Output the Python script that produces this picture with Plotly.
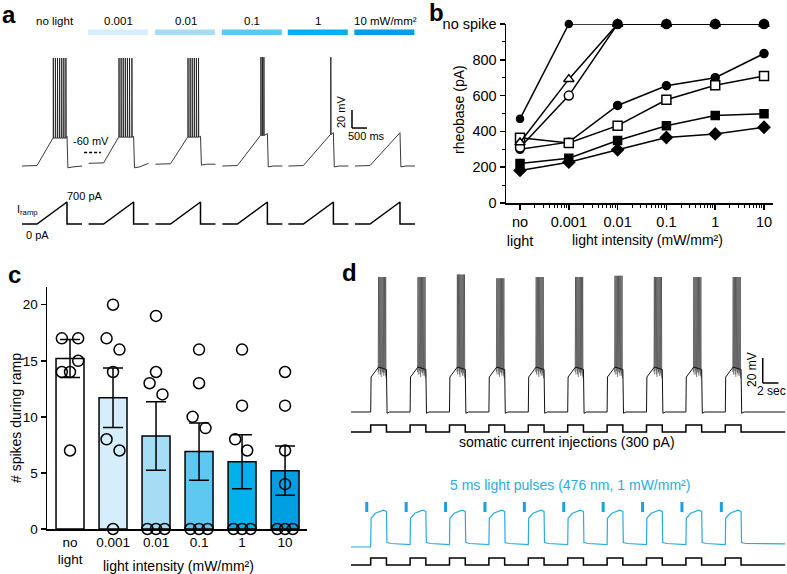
import plotly.graph_objects as go

W, H = 787, 574
FONT = "Liberation Sans, Arial, sans-serif"
BLUE_TXT = "#29abe2"


def dx(a, b):
    return [a / W, b / W]


def dy(top, bottom):
    return [1 - bottom / H, 1 - top / H]


def py(y):
    return 1 - y / H


# ---------------- panel a : ramp responses ----------------
a_labels = ["no light", "0.001", "0.01", "0.1", "1", "10 mW/mm²"]
a_offset = [0.0, 2.22, 4.45, 6.68, 8.88, 11.1]
a_base = [-75, -72, -73, -75, -75, -75]
a_onset_t = [1.03, 1.00, 1.07, 1.27, 1.40, 1.50]
a_onset_v = [-44, -43, -43, -41, -40, -38]
a_end_v = [-42, -42, -42, -39, -38, -38]
a_after_v = [-77, -77, -74, -76, -76, -76]
a_peak = [45, 45, 45, 46, 46, 0]
a_spikes = [
    [1.04, 1.11, 1.18, 1.25, 1.32, 1.39, 1.46],
    [1.01, 1.08, 1.15, 1.22, 1.29, 1.36, 1.44],
    [1.08, 1.15, 1.22, 1.29, 1.36, 1.43],
    [1.28, 1.33, 1.38],
    [1.41],
    [],
]
ramp_t = [0, 0.5, 1.5, 1.5, 2.0]
ramp_pa = [0, 0, 700, 0, 0]

# ---------------- panel b : rheobase ----------------
b_x = [1e-4, 1e-3, 1e-2, 1e-1, 1, 10]
b_ticktext = ["no<br>light", "0.001", "0.01", "0.1", "1", "10"]
b_cells = [
    [300, 340, 545, 655, 700, 835],
    [365, 335, 432, 577, 658, 710],
    [221, 250, 349, 431, 489, 498],
    [182, 228, 297, 366, 386, 423],
    [310, 600, 1000, 1000, 1000, 1000],
    [338, 692, 1000, 1000, 1000, 1000],
    [470, 1000, 1000, 1000, 1000, 1000],
]
b_symbol = ["circle", "square", "square", "diamond", "circle", "triangle-up", "circle"]
b_fill = ["black", "white", "black", "black", "white", "white", "black"]
b_size = [8, 9, 8, 9, 9, 9, 7]

# ---------------- panel c : spikes during ramp ----------------
c_labels = ["no<br>light", "0.001", "0.01", "0.1", "1", "10"]
c_mean = [15.2, 11.7, 8.3, 6.9, 6.0, 5.2]
c_sem = [1.7, 2.65, 3.05, 2.55, 2.4, 2.2]
c_colors = ["white", "#d6eefb", "#a5dcf6", "#5fc8f2", "#00b1eb", "#009fe1"]
c_points = [
    [22, 17, 17, 15, 14, 14, 7],
    [20, 17, 16, 14, 8, 7, 0],
    [19, 14, 13, 12, 0, 0, 0],
    [16, 13, 10, 9, 0, 0, 0],
    [16, 11, 8, 7, 0, 0, 0],
    [14, 11, 7, 4, 0, 0, 0],
]
c_jitter = [
    [0, -0.19, 0.19, 0.19, -0.19, 0, 0],
    [0, -0.15, 0.15, 0, -0.15, 0.15, 0],
    [0, 0, -0.15, 0.15, -0.2, 0, 0.2],
    [0, 0, -0.15, 0.15, -0.2, 0, 0.2],
    [0, 0, -0.16, 0.12, -0.2, 0, 0.2],
    [0, 0, 0, 0, -0.18, 0, 0.18],
]

# ---------------- panel d : repeated steps ----------------
d_step_on = [2.5, 7.5, 12.5, 17.5, 22.5, 27.5, 32.5, 37.5, 42.5, 47.5]
d_light_t = [2.0, 7.0, 12.0, 17.0, 22.0, 27.0, 32.0, 37.0, 42.0, 47.0]
d_peak = [38, 38, 40, 37, 38, 38, 39, 38, 38, 38]
d_spike_rel = [1.0, 1.15, 1.3, 1.45, 1.6, 1.75, 1.9]
d_trough = [-38, -35, -40, -36, -39, -37, -41]
d_blue_pre = [-70, -68, -68, -68, -68, -68, -68, -68, -68, -68]
d_end = 55.1

fig = go.Figure()

# panel a voltage
xs, vs = [], []
for k in range(6):
    o = a_offset[k]
    px_ = [0, 0.5, a_onset_t[k]]
    pv = [a_base[k], a_base[k] + 0.5, a_onset_v[k]]
    for ts in a_spikes[k]:
        px_ += [ts, ts + 0.004, ts + 0.012]
        pv += [a_onset_v[k], a_peak[k], a_onset_v[k]]
    px_ += [1.5, 1.53, 1.7, 2.0]
    pv += [a_end_v[k], a_after_v[k], a_after_v[k] + 1, a_base[k]]
    xs += [o + t for t in px_] + [None]
    vs += pv + [None]
fig.add_trace(go.Scatter(x=xs, y=vs, xaxis="x", yaxis="y", mode="lines",
                         line=dict(color="#222", width=0.9)))

xs, vs = [], []
for o in a_offset:
    xs += [o + t for t in ramp_t] + [None]
    vs += ramp_pa + [None]
fig.add_trace(go.Scatter(x=xs, y=vs, xaxis="x", yaxis="y2", mode="lines",
                         line=dict(color="black", width=1.5)))

# panel b
for vals, sym, fill, size in zip(b_cells, b_symbol, b_fill, b_size):
    fig.add_trace(go.Scatter(
        x=b_x, y=vals, xaxis="x3", yaxis="y3", mode="lines+markers", cliponaxis=False,
        line=dict(color="black", width=1.5),
        marker=dict(symbol=sym, size=size, color=fill, line=dict(color="black", width=1.5))))

# panel c
fig.add_trace(go.Bar(
    x=list(range(6)), y=c_mean, xaxis="x4", yaxis="y4", width=0.65,
    marker=dict(color=c_colors, line=dict(color="black", width=1.5)),
    error_y=dict(type="data", array=c_sem, color="black", thickness=1.5, width=10)))
px_, py_ = [], []
for i, pts in enumerate(c_points):
    for v, j in zip(pts, c_jitter[i]):
        px_.append(i + j)
        py_.append(v)
fig.add_trace(go.Scatter(
    x=px_, y=py_, xaxis="x4", yaxis="y4", mode="markers", cliponaxis=False,
    marker=dict(symbol="circle-open", size=11, color="black", line=dict(width=1.5))))

# panel d black voltage: envelope and spikes separately
xs, vs = [0], [-70]
sx, sv = [], []
for i, on in enumerate(d_step_on):
    xs += [on, on + 0.05, on + 1.0, on + 2.0, on + 2.08, on + 2.4]
    vs += [-70, -42, -34, -36, -71, -70]
    for r, tr in zip(d_spike_rel, d_trough):
        ts = on + r
        sx += [ts - 0.05, ts, ts + 0.04, None]
        sv += [tr, d_peak[i], tr - 2, None]
xs.append(d_end)
vs.append(-70)
fig.add_trace(go.Scatter(x=sx, y=sv, xaxis="x5", yaxis="y5", mode="lines",
                         line=dict(color="#444", width=0.7)))
fig.add_trace(go.Scatter(x=xs, y=vs, xaxis="x5", yaxis="y5", mode="lines",
                         line=dict(color="#111", width=1)))

# current steps (both)
xs, cs = [0], [0]
for on in d_step_on:
    xs += [on, on, on + 2.0, on + 2.0]
    cs += [0, 300, 300, 0]
xs.append(d_end)
cs.append(0)
for ya in ["y6", "y8"]:
    fig.add_trace(go.Scatter(x=xs, y=cs, xaxis="x5", yaxis=ya, mode="lines",
                             line=dict(color="black", width=1.5)))

# blue voltage
xs, vs = [0], [-70]
for i, on in enumerate(d_step_on):
    xs += [on, on + 0.05, on + 0.6, on + 1.6, on + 2.0, on + 2.06, on + 2.6]
    vs += [d_blue_pre[i], -47, -43, -40.5, -41.5, -66.5, -67.2]
xs.append(d_end)
vs.append(-67.5)
fig.add_trace(go.Scatter(x=xs, y=vs, xaxis="x5", yaxis="y7", mode="lines",
                         line=dict(color="#29abe2", width=1.2)))

xs, vs = [], []
for t in d_light_t:
    xs += [t, t, None]
    vs += [-42, -34, None]
fig.add_trace(go.Scatter(x=xs, y=vs, xaxis="x5", yaxis="y7", mode="lines",
                         line=dict(color="#1ba1dc", width=3)))

# ---------------- layout ----------------
hidden = dict(visible=False, fixedrange=True, automargin=False)
axis_font = dict(family=FONT, size=14.5, color="black")

minor_log = [m * 10 ** e for e in range(-4, 1) for m in range(2, 10)]

layout = dict(
    width=W, height=H, margin=dict(l=0, r=0, t=0, b=0, autoexpand=False),
    paper_bgcolor="white", plot_bgcolor="white", showlegend=False, hovermode=False,
    font=dict(family=FONT, color="black"),
    xaxis=dict(hidden, domain=dx(10, 420), range=[-0.4, 13.267], anchor="y"),
    yaxis=dict(hidden, domain=dy(50, 180), range=[-90.56, 53.89], anchor="x"),
    yaxis2=dict(hidden, domain=dy(195, 232), range=[-254.5, 922.7], anchor="x"),
    xaxis3=dict(type="log", domain=dx(506, 773), range=[-4.287, 1.184], anchor="y3",
                automargin=False,
                showline=True, linecolor="black", linewidth=1.5, showgrid=False, zeroline=False,
                tickmode="array", tickvals=b_x, ticktext=b_ticktext, ticks="outside",
                ticklen=5, tickwidth=1.5, tickcolor="black", tickfont=axis_font,
                minor=dict(tickmode="array", tickvals=minor_log, ticks="outside",
                           ticklen=3, tickwidth=1, tickcolor="black", showgrid=False)),
    yaxis3=dict(domain=dy(24, 203), range=[0, 1000], anchor="x3", automargin=False,
                showline=True, linecolor="black", linewidth=1.5, showgrid=False, zeroline=False,
                tickmode="array", tickvals=[0, 200, 400, 600, 800, 1000],
                ticktext=["0", "200", "400", "600", "800", "no spike"], ticks="outside",
                ticklen=5, tickwidth=1.5, tickcolor="black", tickfont=axis_font,
                minor=dict(dtick=100, ticks="outside", ticklen=3, tickwidth=1,
                           tickcolor="black", showgrid=False)),
    xaxis4=dict(domain=dx(47, 307), range=[-0.535, 5.51], anchor="y4", automargin=False,
                showline=True, linecolor="black", linewidth=1.5, showgrid=False, zeroline=False,
                tickmode="array", tickvals=list(range(6)), ticktext=c_labels, ticks="",
                tickfont=dict(family=FONT, size=13.5, color="black")),
    yaxis4=dict(domain=dy(287, 529), range=[0, 21.58], anchor="x4", automargin=False,
                showline=True, linecolor="black", linewidth=1.5, showgrid=False, zeroline=False,
                tickvals=[0, 5, 10, 15, 20], ticks="outside", ticklen=5, tickwidth=1.5,
                tickcolor="black", tickfont=dict(family=FONT, size=13.5, color="black")),
    xaxis5=dict(hidden, domain=dx(348, 787), range=[-0.38, 55.33], anchor="y5"),
    yaxis5=dict(hidden, domain=dy(270, 420), range=[-76.4, 43.6], anchor="x5"),
    yaxis6=dict(hidden, domain=dy(418, 438), range=[-257, 600], anchor="x5"),
    yaxis7=dict(hidden, domain=dy(495, 553), range=[-74.8, -28.4], anchor="x5"),
    yaxis8=dict(hidden, domain=dy(552, 572), range=[-300, 557], anchor="x5"),
)
fig.update_layout(**layout)

shapes = []
# light bars above panel a
for k in range(1, 6):
    shapes.append(dict(type="rect", xref="x", yref="paper",
                       x0=a_offset[k] - 0.02, x1=a_offset[k] + 1.98,
                       y0=py(35), y1=py(29.5),
                       fillcolor=c_colors[k], line=dict(width=0)))
# -60 mV dashed reference
shapes.append(dict(type="line", xref="x", yref="y", x0=2.07, x1=2.63, y0=-60, y1=-60,
                   line=dict(color="black", width=1.5, dash="3px,2px")))
# scale bars
sb = dict(color="black", width=1.5)
shapes += [
    dict(type="line", xref="x", yref="y", x0=11.0, x1=11.0, y0=-32.8, y1=-12.8, line=sb),
    dict(type="line", xref="x", yref="y", x0=11.0, x1=11.5, y0=-32.8, y1=-32.8, line=sb),
    dict(type="line", xref="x5", yref="y5", x0=52.25, x1=52.25, y0=-46.8, y1=-26.8, line=sb),
    dict(type="line", xref="x5", yref="y5", x0=52.25, x1=54.25, y0=-46.8, y1=-46.8, line=sb),
]
fig.update_layout(shapes=shapes)


def note(text, x, y, size=11, color="black", angle=0, bold=False, xanchor="center"):
    if bold:
        text = "<b>" + text + "</b>"
    return dict(text=text, x=x / W, y=py(y), xref="paper", yref="paper",
                showarrow=False, textangle=angle, xanchor=xanchor, yanchor="middle",
                font=dict(family=FONT, size=size, color=color))


ann = []
a_centers = [22 + 30 * (o + 1.0) for o in a_offset]
for k, lab in enumerate(a_labels):
    ann.append(note(lab, a_centers[k] + (3 if k == 0 else 0), 21, size=11.5))
ann += [
    note("a", 9, 14, size=24, bold=True),
    note("b", 436, 12, size=24, bold=True),
    note("c", 14, 274, size=24, bold=True),
    note("d", 349, 272, size=24, bold=True),
    note("-60 mV", 91, 141, size=11),
    note("20 mV", 341, 112, size=11, angle=-90),
    note("500 ms", 366, 136, size=11),
    note("I<sub>ramp</sub>", 27, 210, size=11),
    note("700 pA", 85, 196, size=11),
    note("0 pA", 37, 235, size=11),
    note("rheobase (pA)", 459, 110, size=14, angle=-90),
    note("light intensity (mW/mm²)", 647, 240, size=14),
    note("# spikes during ramp", 16, 418, size=14, angle=-90),
    note("light intensity (mW/mm²)", 178, 566, size=14),
    note("somatic current injections (300 pA)", 567, 442, size=14),
    note("5 ms light pulses (476 nm, 1 mW/mm²)", 570, 485, size=14, color=BLUE_TXT),
    note("20 mV", 752, 370, size=12, angle=-90),
    note("2 sec", 771, 391, size=12),
]
fig.update_layout(annotations=ann)

# drop the browser's default body margin so the figure fills the window
fig.write_html("out.html",
               config={"displayModeBar": False, "staticPlot": True},
               post_script="document.body.style.margin='0';"
                           "document.body.style.overflow='hidden';")
